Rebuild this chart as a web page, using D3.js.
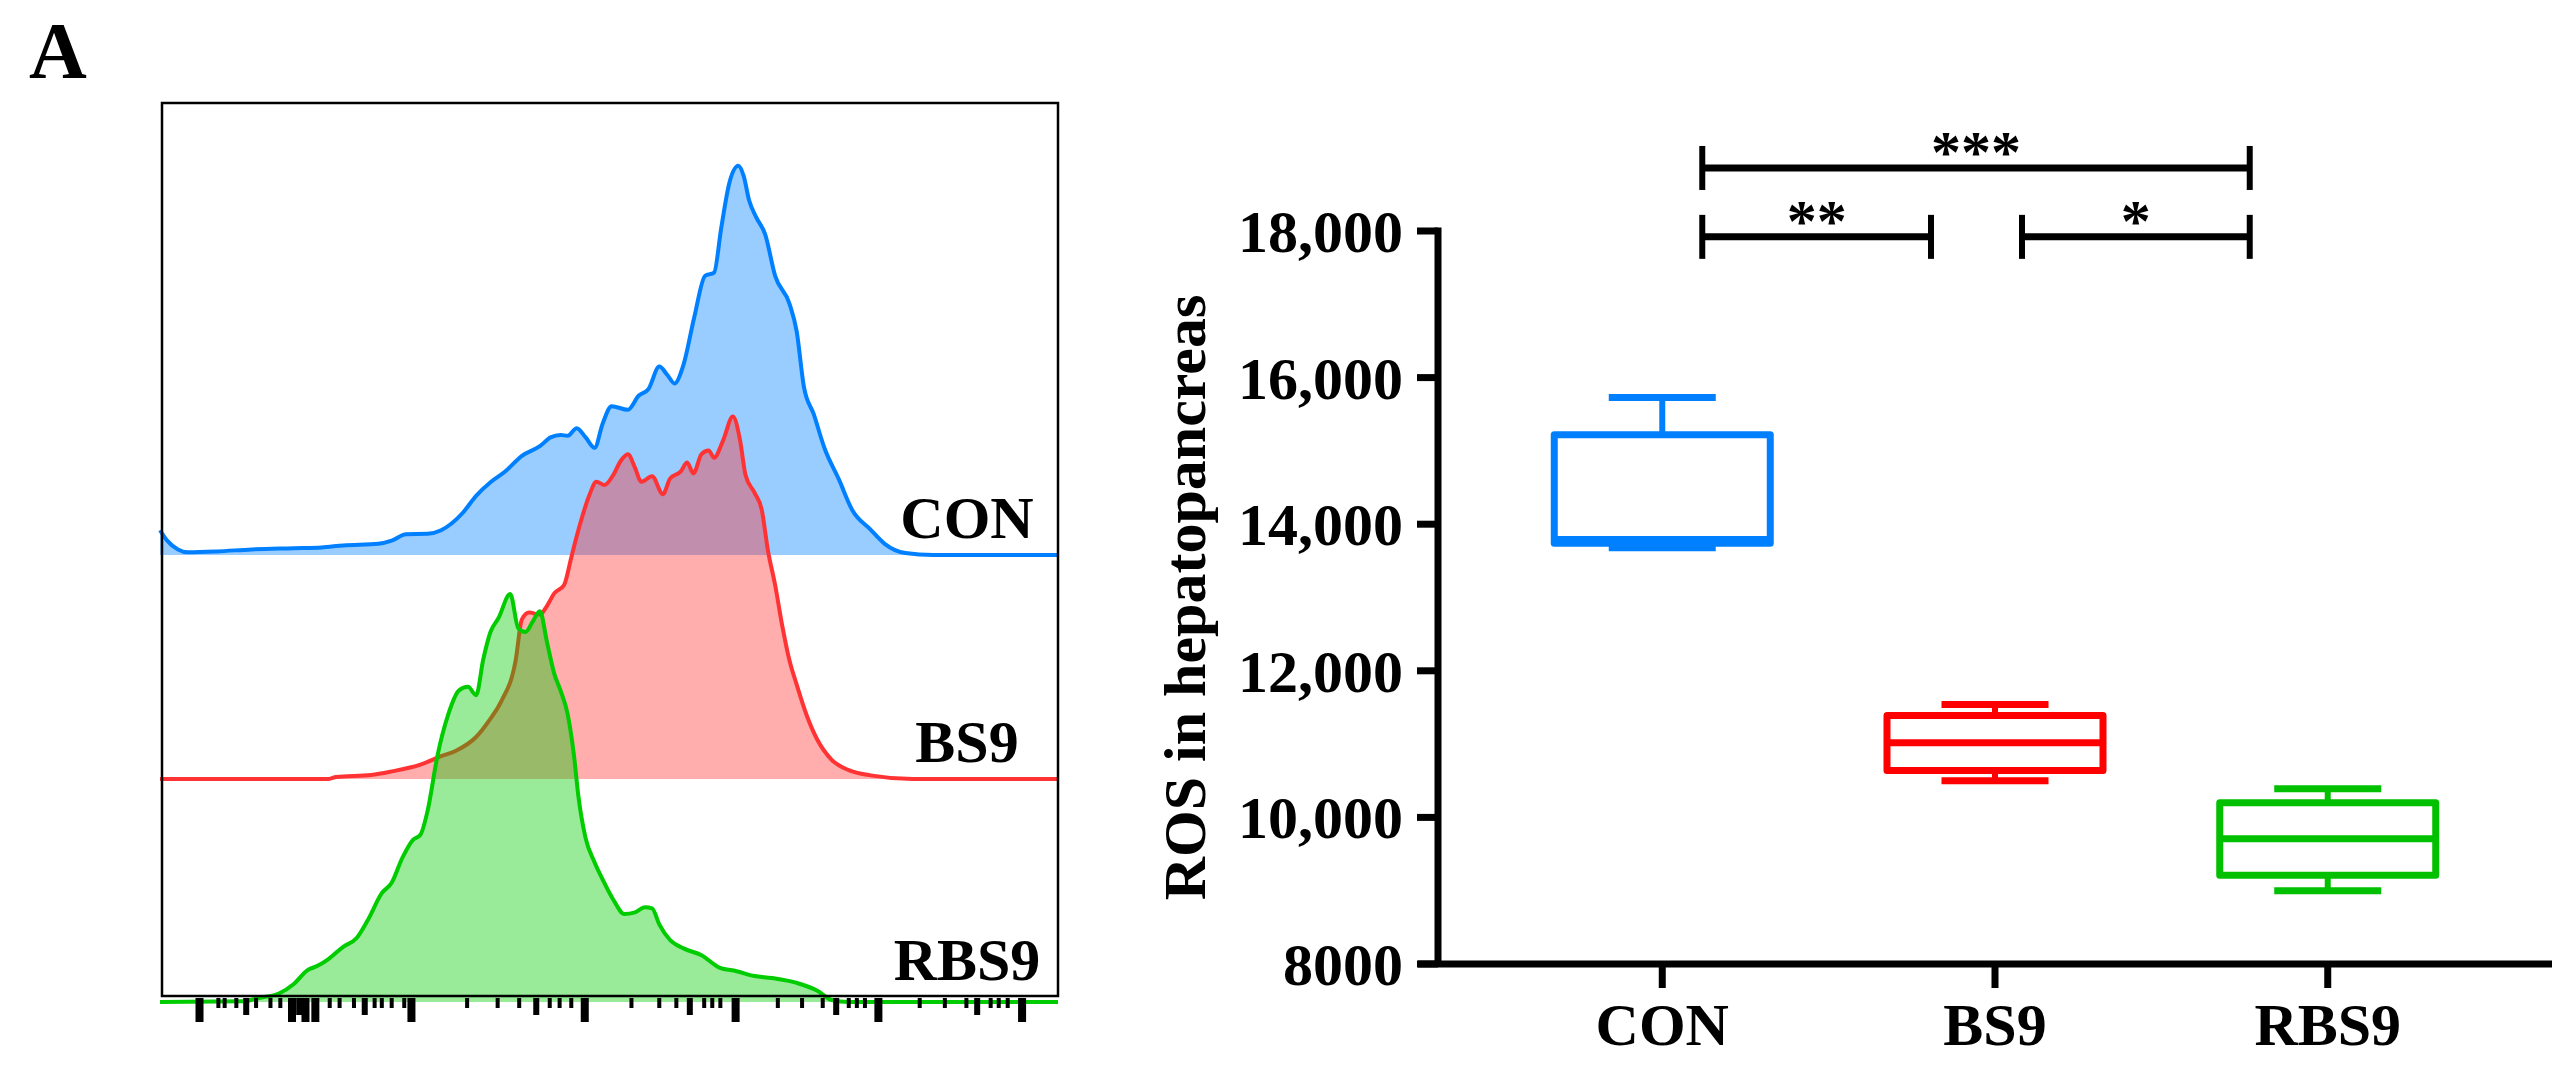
<!DOCTYPE html>
<html>
<head>
<meta charset="utf-8">
<script src="https://cdn.jsdelivr.net/npm/d3@7"></script>
<style>
  body { margin: 0; background: #fff; }
  text { font-family: "Liberation Serif", "Times New Roman", serif; font-weight: bold; }
</style>
</head>
<body>
<div id="chart"></div>
<script>
// flow histograms: [channel (0-1000), count]
const conHist = [[0, 6.2], [8, 3.6], [20, 1.4], [31, 0.7], [63, 0.9], [102, 1.4], [149, 1.7], [180, 1.9], [204, 2.4],
    [243, 2.8], [258, 3.6], [274, 5.2], [298, 5.3], [313, 6.2], [337, 10.5], [352, 14.8], [368, 18.2], [384, 20.8],
    [403, 24.8], [423, 27.2], [435, 29.4], [446, 30.0], [454, 29.8], [464, 31.7], [474, 29.4], [484, 26.8],
    [493, 32.9], [503, 37.2], [521, 36.3], [533, 39.8], [544, 41.5], [556, 47.1], [565, 45.0], [573, 42.9],
    [583, 47.6], [595, 59.5], [607, 69.8], [617, 70.6], [625, 81.8], [634, 93.0], [644, 97.3], [650, 94.7],
    [656, 88.7], [664, 84.4], [674, 80.1], [685, 69.8], [701, 62.8], [709, 55.9], [717, 42.1], [728, 35.2],
    [740, 26.7], [756, 18.9], [771, 11.2], [791, 6.4], [807, 2.8], [830, 0.5], [861, 0], [1000, 0]]
const bs9Hist = [[0, 0], [188, 0], [196, 0.5], [235, 1.0], [258, 1.9], [290, 3.6], [313, 5.7], [329, 7.0], [352, 10.5],
    [368, 15.1], [380, 19.4], [396, 29.6], [403, 39.9], [411, 41.6], [423, 41.1], [431, 43.3], [439, 46.4],
    [450, 48.5], [458, 55.4], [466, 62.3], [478, 70.9], [486, 74.3], [495, 73.5], [505, 76.1], [513, 79.5],
    [521, 81.2], [529, 77.8], [536, 74.3], [548, 75.7], [560, 71.2], [568, 75.1], [580, 76.9], [587, 79.1],
    [594, 76.4], [603, 81.2], [611, 82.1], [617, 80.3], [627, 84.6], [638, 90.6], [646, 84.6], [652, 76.0],
    [662, 71.6], [670, 67.4], [677, 57.1], [685, 48.5], [693, 38.2], [701, 29.6], [709, 23.6], [720, 16.0],
    [732, 9.8], [748, 4.8], [767, 2.2], [791, 0.9], [838, 0], [1000, 0]]
const rbs9Hist = [[0, 0], [94, 0.2], [110, 1.0], [133, 2.2], [149, 4.5], [164, 7.9], [176, 9.1], [188, 10.8], [204, 13.8],
    [219, 16.0], [231, 20.3], [247, 27.2], [258, 29.8], [270, 36.1], [282, 40.6], [290, 41.8], [298, 47.8],
    [309, 61.6], [321, 71.9], [333, 77.9], [343, 78.8], [352, 76.7], [360, 85.7], [368, 92.5], [377, 96.0],
    [390, 102.0], [399, 93.4], [407, 92.5], [415, 95.1], [423, 97.7], [431, 89.9], [439, 82.1], [446, 77.9],
    [454, 71.9], [461, 61.6], [466, 51.3], [474, 40.9], [484, 34.9], [493, 30.6], [505, 25.5], [517, 22.0],
    [529, 22.4], [540, 23.7], [548, 23.4], [556, 19.4], [568, 15.5], [583, 13.4], [603, 11.7], [623, 8.6],
    [642, 7.7], [662, 6.5], [681, 6.0], [713, 4.5], [732, 2.8], [748, 0.5], [767, 0], [1000, 0]]

// logicle-style axis ticks (channel units)
const majorTicks = [44, 147, 162, 173, 280, 473, 641, 800, 960]
const midTicks = [96, 155, 228, 419, 590, 753, 910]
const minorTicks = [65, 72, 85, 107, 123, 134, 189, 200, 216, 239, 247, 258, 272, 342, 376, 400, 434, 445, 458,
    525, 556, 575, 606, 615, 624, 688, 715, 738, 767, 776, 785, 846, 874, 898, 925, 934, 944]

// box plot
const groups = ["CON", "BS9", "RBS9"]
const mins = [13680, 10500, 9000]
const q1s = [13740, 10640, 9210]
const medians = [13790, 11020, 9710]
const q3s = [15220, 11390, 10200]
const maxs = [15730, 11540, 10390]
const yTicks = [8000, 10000, 12000, 14000, 16000, 18000]
const sigPairs = [["CON", "RBS9", "***", 18860], ["CON", "BS9", "**", 17920], ["BS9", "RBS9", "*", 17920]]

const colors = ["#0080FF", "#FF3333", "#00CC00"]
const boxColors = ["#0080FF", "#FF0000", "#00C000"]

const W = 2576, H = 1077

const svg = d3.select('#chart')
    .append('svg')
    .attr('width', W)
    .attr('height', H)

svg.append('rect').attr('width', W).attr('height', H).attr('fill', '#fff')

svg.append('text')
    .attr('x', 29)
    .attr('y', 78)
    .style('font-size', '80px')
    .text('A')

// ---- left panel: overlaid histograms ----
const hx = d3.scaleLinear().domain([0, 1000]).range([160, 1058])
const hh = d3.scaleLinear().domain([0, 100]).range([0, 400])
const baselines = [555, 779, 1002]
const hists = [conHist, bs9Hist, rbs9Hist]

const left = svg.append('g')

hists.forEach((hist, i) => {
    const base = baselines[i]
    const area = d3.area()
        .x(d => hx(d[0]))
        .y0(base)
        .y1(d => base - hh(d[1]))
        .curve(d3.curveMonotoneX)
    const line = d3.line()
        .x(d => hx(d[0]))
        .y(d => base - hh(d[1]))
        .curve(d3.curveMonotoneX)
    left.append('path')
        .attr('d', area(hist))
        .attr('fill', colors[i])
        .attr('fill-opacity', 0.4)
    left.append('path')
        .attr('d', line(hist))
        .attr('fill', 'none')
        .attr('stroke', colors[i])
        .attr('stroke-width', 4)
        .attr('stroke-linejoin', 'round')
})

left.append('rect')
    .attr('x', 162)
    .attr('y', 103)
    .attr('width', 896)
    .attr('height', 893)
    .attr('fill', 'none')
    .attr('stroke', '#000')
    .attr('stroke-width', 2.5)

const tickSets = [[minorTicks, 4, 10], [midTicks, 6, 17], [majorTicks, 8, 24]]
tickSets.forEach(([vals, w, len]) => {
    left.append('g')
        .selectAll('rect')
        .data(vals)
        .enter()
        .append('rect')
        .attr('x', d => hx(d) - w / 2)
        .attr('y', 998)
        .attr('width', w)
        .attr('height', len)
        .attr('fill', '#000')
})

const histLabelY = [538, 762, 980]
groups.forEach((g, i) => {
    left.append('text')
        .attr('x', 967)
        .attr('y', histLabelY[i])
        .attr('text-anchor', 'middle')
        .style('font-size', '60px')
        .text(g)
})

// ---- right panel: box plot ----
const x = d3.scalePoint().domain(groups).range([1438, 2552]).padding(0.674)
const y = d3.scaleLinear().domain([8000, 18000]).range([964, 231])
const right = svg.append('g')

const fmt = d => d >= 10000 ? d3.format(',')(d) : String(d)

// axes
right.append('line')
    .attr('x1', 1438).attr('x2', 1438)
    .attr('y1', y(18000) - 3.5).attr('y2', y(8000))
    .attr('stroke', '#000').attr('stroke-width', 7)
right.append('line')
    .attr('x1', 1418).attr('x2', 2552)
    .attr('y1', y(8000)).attr('y2', y(8000))
    .attr('stroke', '#000').attr('stroke-width', 7)

right.selectAll('.ytick')
    .data(yTicks)
    .enter()
    .append('line')
    .attr('x1', 1417).attr('x2', 1438)
    .attr('y1', d => y(d)).attr('y2', d => y(d))
    .attr('stroke', '#000').attr('stroke-width', 7)

right.selectAll('.ylab')
    .data(yTicks)
    .enter()
    .append('text')
    .attr('x', 1403)
    .attr('y', d => y(d) + 21)
    .attr('text-anchor', 'end')
    .style('font-size', '60px')
    .text(fmt)

right.selectAll('.xtick')
    .data(groups)
    .enter()
    .append('line')
    .attr('x1', d => x(d)).attr('x2', d => x(d))
    .attr('y1', y(8000)).attr('y2', y(8000) + 24)
    .attr('stroke', '#000').attr('stroke-width', 7)

right.selectAll('.xlab')
    .data(groups)
    .enter()
    .append('text')
    .attr('x', d => x(d))
    .attr('y', 1045)
    .attr('text-anchor', 'middle')
    .style('font-size', '60px')
    .text(d => d)

right.append('text')
    .attr('transform', 'translate(1205,' + ((y(8000) + y(18000)) / 2) + ') rotate(-90)')
    .attr('text-anchor', 'middle')
    .style('font-size', '60px')
    .text('ROS in hepatopancreas')

// boxes
const boxW = 216, capW = 107
groups.forEach((g, i) => {
    const cx = x(g)
    const c = boxColors[i]
    const b = right.append('g')
        .attr('stroke', c)
        .attr('stroke-width', 7)
        .attr('fill', 'none')
    b.append('line').attr('x1', cx).attr('x2', cx).attr('y1', y(q3s[i])).attr('y2', y(maxs[i])).attr('stroke-width', 6)
    b.append('line').attr('x1', cx).attr('x2', cx).attr('y1', y(q1s[i])).attr('y2', y(mins[i])).attr('stroke-width', 6)
    b.append('line').attr('x1', cx - capW / 2).attr('x2', cx + capW / 2).attr('y1', y(maxs[i])).attr('y2', y(maxs[i]))
    b.append('line').attr('x1', cx - capW / 2).attr('x2', cx + capW / 2).attr('y1', y(mins[i])).attr('y2', y(mins[i]))
    b.append('rect')
        .attr('x', cx - boxW / 2)
        .attr('y', y(q3s[i]))
        .attr('width', boxW)
        .attr('height', y(q1s[i]) - y(q3s[i]))
        .attr('stroke-linejoin', 'round')
        .attr('fill', '#fff')
    b.append('line').attr('x1', cx - boxW / 2).attr('x2', cx + boxW / 2).attr('y1', y(medians[i])).attr('y2', y(medians[i]))
})

// significance brackets
const leftInset = { CON: 40, BS9: 27 }
const rightInset = { BS9: 64, RBS9: 78 }
sigPairs.forEach(([a, b, label, lvl]) => {
    const x1 = x(a) + leftInset[a]
    const x2 = x(b) - rightInset[b]
    const yy = y(lvl)
    const g = right.append('g').attr('stroke', '#000').attr('stroke-width', 7)
    g.append('line').attr('x1', x1).attr('x2', x2).attr('y1', yy).attr('y2', yy)
    g.append('line').attr('x1', x1).attr('x2', x1).attr('y1', yy - 22).attr('y2', yy + 22).attr('stroke-width', 6)
    g.append('line').attr('x1', x2).attr('x2', x2).attr('y1', yy - 22).attr('y2', yy + 22).attr('stroke-width', 6)
    right.append('text')
        .attr('x', (x1 + x2) / 2)
        .attr('y', yy + 4)
        .attr('text-anchor', 'middle')
        .style('font-size', '60px')
        .text(label)
})
</script>
</body>
</html>
